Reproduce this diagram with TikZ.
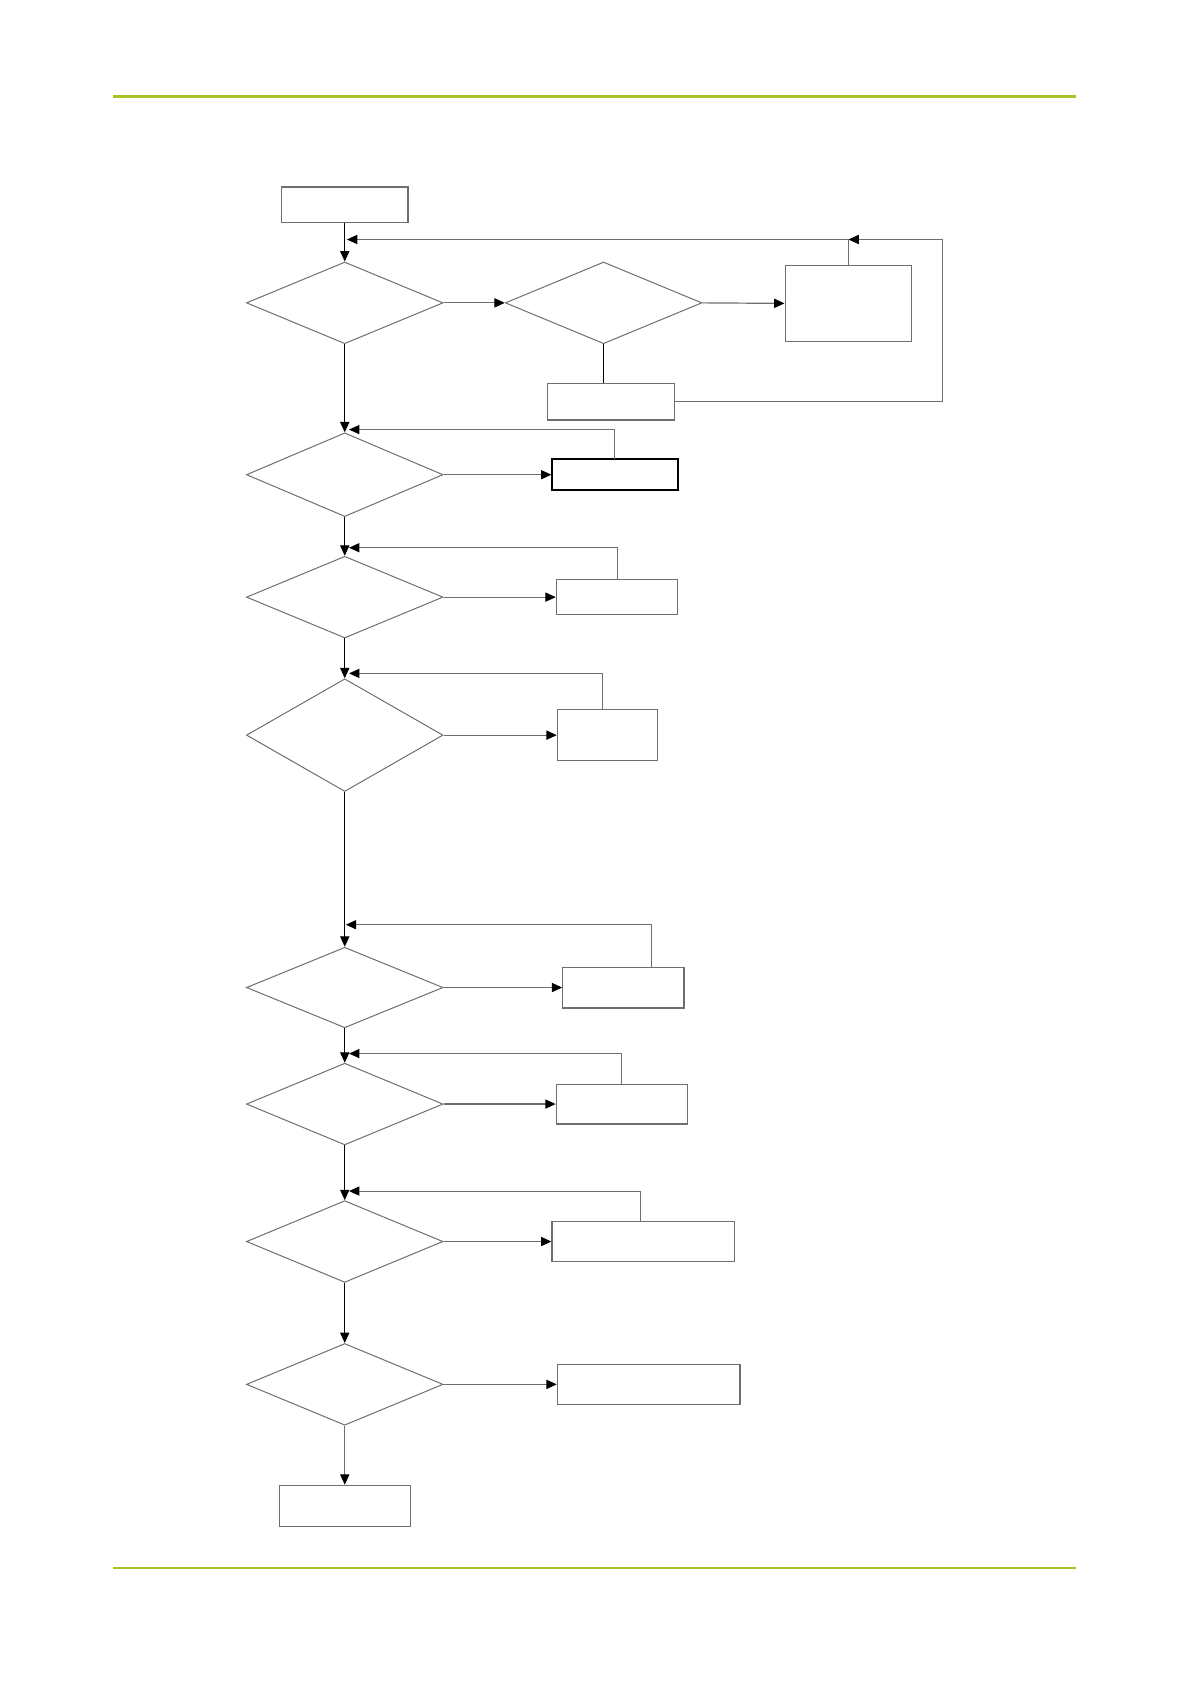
\documentclass[tikz,border=0pt]{standalone}
\usepackage{tikz}
\usetikzlibrary{shapes.geometric,arrows.meta,positioning,calc}
\definecolor{rulegreen}{RGB}{166,196,38}
\definecolor{linegray}{RGB}{110,110,110}

\tikzset{
  dec/.style={diamond, draw=linegray, line width=0.5pt, inner sep=0pt,
    minimum width=98.4pt, minimum height=40.9pt},
  stepbox/.style={rectangle, draw=linegray, line width=0.6pt, inner sep=0pt},
  flow/.style={line width=0.6pt, -{Triangle[length=5.2pt,width=4.6pt,color=black]}},
  back/.style={draw=linegray, line width=0.5pt},
  backarrow/.style={back, -{Triangle[length=5.2pt,width=4.6pt,color=black]}},
}

\begin{document}
\begin{tikzpicture}[x=0.5375pt, y=-0.5375pt]
  \useasboundingbox (0,0) rectangle (1109,1568);
  % header / footer rules
  \draw[rulegreen, line width=1.2pt] (105,90) -- (1002,90);
  \draw[rulegreen, line width=1.2pt] (105,1460) -- (1002,1460);

  % top part: start, first check and its side loop
  \node[stepbox, minimum width=63.4pt, minimum height=17.7pt] (start) at (321,190.5) {};
  \node[dec] (d1) at (321,282) {};
  \node[dec] (d2) at (562,282) {};
  \node[stepbox, minimum width=63.4pt, minimum height=38.2pt] (b1) at (790,282.5) {};
  \node[stepbox, minimum width=63.4pt, minimum height=18.3pt] (b2) at (569,374) {};
  \coordinate (c1) at (878,223);
  \coordinate (j1) at (323,223);

  \draw[flow] (start) -- (d1);
  \draw[flow, draw=linegray] (d1.east) -- (d2.west);
  \draw[flow, draw=linegray] (d2.east) -- (b1.west);
  \draw[line width=0.6pt] (d2.south) -- (d2.south |- b2.north);
  \draw[back] (b2.east) -| (c1);
  \draw[backarrow] (c1) -- (b1.north |- c1);
  \draw[backarrow] (b1.north) -- (b1.north |- c1) -- (j1);

  % chain of checks, each with its fix-up box to the right
  % name / centre y / diamond height / box centre x / box width / box height
  \foreach \n/\yc/\dh/\bx/\bw/\bh in {3/442/41.9/572.5/62.9/15.6,
                                      4/556/40.9/574.5/60.7/17.7,
                                      5/684.5/56.4/565.5/50/25.3,
                                      6/919.5/40.3/580.5/60.7/20.4,
                                      7/1028/40.9/579/65.6/19.9,
                                      8/1156/40.9/599/91.4/19.9,
                                      9/1289/40.9/604/91.4/19.9}{
    \node[dec, minimum height=\dh pt] (d\n) at (321,\yc) {};
    \node[stepbox, minimum width=\bw pt, minimum height=\bh pt] (b\n) at (\bx,\yc) {};
    \draw[flow, draw=linegray] (d\n.east) -- (b\n.west);
  }
  \node[stepbox, line width=0.8pt, draw=black, minimum width=62.9pt, minimum height=15.6pt] at (b3) {};
  \node[stepbox, minimum width=65.6pt, minimum height=20.4pt] (stop) at (321,1402) {};

  % straight run down the left column
  \draw[flow] (d1) -- (d3);
  \draw[flow] (d3) -- (d4);
  \draw[flow] (d4) -- (d5);
  \draw[flow] (d5) -- (d6);
  \draw[flow] (d6) -- (d7);
  \draw[flow] (d7) -- (d8);
  \draw[flow] (d8) -- (d9);
  \draw[flow, draw=linegray] (d9) -- (stop);

  % feedback from each box back above its check
  \draw[backarrow] (b3.north) |- (325,400);
  \draw[backarrow] (b4.north) |- (325,510);
  \draw[backarrow] ([xshift=-2.4pt]b5.north) |- (325,627);
  \draw[backarrow] ([xshift=14pt]b6.north) |- (322,861);
  \draw[backarrow] (b7.north) |- (325,981);
  \draw[backarrow] ([xshift=-1.6pt]b8.north) |- (325,1109);
\end{tikzpicture}
\end{document}
